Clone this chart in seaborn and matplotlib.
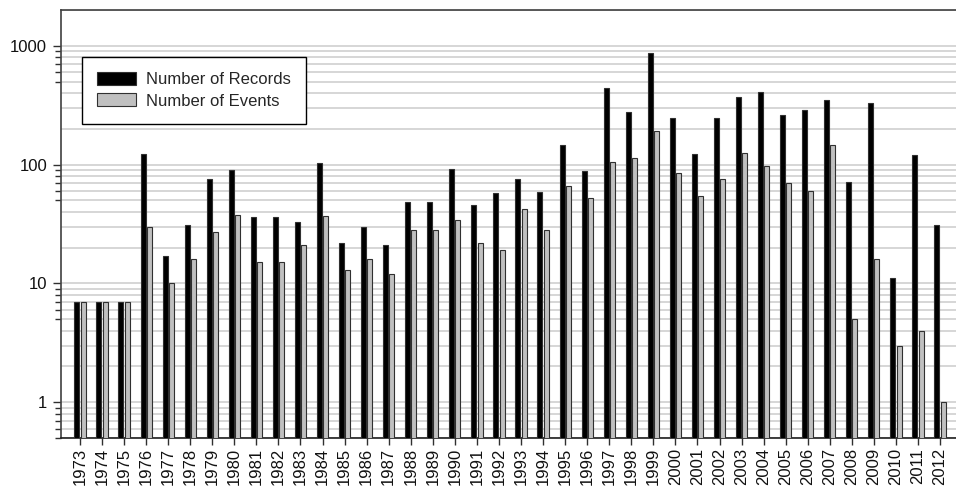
import matplotlib
matplotlib.use("Agg")
import matplotlib.pyplot as plt
from matplotlib.patches import Patch
from matplotlib.ticker import LogLocator, FixedLocator, NullFormatter, FuncFormatter
import seaborn as sns
import pandas as pd

years = ["1973", "1974", "1975", "1976", "1977", "1978", "1979", "1980",
         "1981", "1982", "1983", "1984", "1985", "1986", "1987", "1988",
         "1989", "1990", "1991", "1992", "1993", "1994", "1995", "1996",
         "1997", "1998", "1999", "2000", "2001", "2002", "2003", "2004",
         "2005", "2006", "2007", "2008", "2009", "2010", "2011", "2012"]
records = [7, 7, 7, 122, 17, 31, 75, 90, 36, 36, 33, 103, 22, 30, 21, 48,
           48, 91, 46, 58, 76, 59, 145, 88, 437, 275, 871, 249, 122, 246,
           370, 407, 261, 287, 349, 71, 329, 11, 120, 31]
events = [7, 7, 7, 30, 10, 16, 27, 38, 15, 15, 21, 37, 13, 16, 12, 28,
          28, 34, 22, 19, 42, 28, 66, 52, 106, 113, 190, 85, 54, 75,
          124, 97, 70, 60, 147, 5, 16, 3, 4, 1]
series_names = ["Number of Records", "Number of Events"]
colors = {"Number of Records": "#000000", "Number of Events": "#c0c0c0"}

df = pd.DataFrame({
    "year": years * 2,
    "count": records + events,
    "series": [series_names[0]] * len(years) + [series_names[1]] * len(years),
})

FS = 12

sns.set_theme(style="white")
plt.rcParams["font.family"] = ["Liberation Sans", "DejaVu Sans"]
plt.rcParams["font.size"] = FS

fig = plt.figure(figsize=(9.56, 4.90), dpi=100)
ax = fig.add_axes([61 / 956, 1 - 438 / 490, 898 / 956, 428 / 490])

ax.set_yscale("log")
sns.barplot(data=df, x="year", y="count", hue="series", order=years,
            hue_order=series_names, palette=colors, width=0.56, gap=0.19,
            edgecolor="#303030", linewidth=0.8, saturation=1,
            legend=False, ax=ax, zorder=3)

ax.set_ylim(0.5, 2000)
ax.set_xlim(-0.86, 39.86)

# log grid at every 1..9 step, labels only on the decades
ax.yaxis.set_major_locator(FixedLocator([1, 10, 100, 1000]))
ax.yaxis.set_major_formatter(FuncFormatter(lambda v, p: f"{int(round(v))}"))
ax.yaxis.set_minor_locator(LogLocator(base=10, subs=(5, 6, 7, 8, 9)))
ax.yaxis.set_minor_formatter(NullFormatter())
grid_vals = [m * 10.0 ** e for e in range(-1, 4) for m in range(1, 10)]
for g in grid_vals:
    if 0.5 <= g <= 2000:
        ax.axhline(g, color="#d0d0d0", lw=1.2, zorder=1)
ax.grid(False)

ax.tick_params(axis="y", which="major", direction="out", length=6, width=1,
               color="#303030", pad=4, labelsize=FS, labelcolor="#111111",
               left=True)
ax.tick_params(axis="y", which="minor", direction="out", length=4, width=1,
               color="#303030", left=True)
ax.tick_params(axis="x", which="major", direction="out", length=5, width=1,
               color="#303030", pad=2, labelsize=FS, labelcolor="#111111",
               bottom=True, labelrotation=90)

ax.set_xlabel("")
ax.set_ylabel("")

for side in ["left", "top", "bottom", "right"]:
    ax.spines[side].set_visible(True)
    ax.spines[side].set_color("#404040")
    ax.spines[side].set_linewidth(1.2)
ax.spines["bottom"].set_color("#202020")

handles = [Patch(facecolor=colors[n], edgecolor="#303030", linewidth=0.8)
           for n in series_names]
leg = ax.legend(handles, series_names, loc="upper left",
                bbox_to_anchor=(0.0234, 0.890), borderaxespad=0,
                frameon=True, fancybox=False, shadow=False,
                edgecolor="#000000", framealpha=1, fontsize=FS,
                handlelength=2.35, handleheight=0.78, handletextpad=0.6,
                labelspacing=0.38, borderpad=0.9)
leg.get_frame().set_linewidth(1.0)
leg.set_zorder(5)

fig.savefig("out.png", dpi=100)
